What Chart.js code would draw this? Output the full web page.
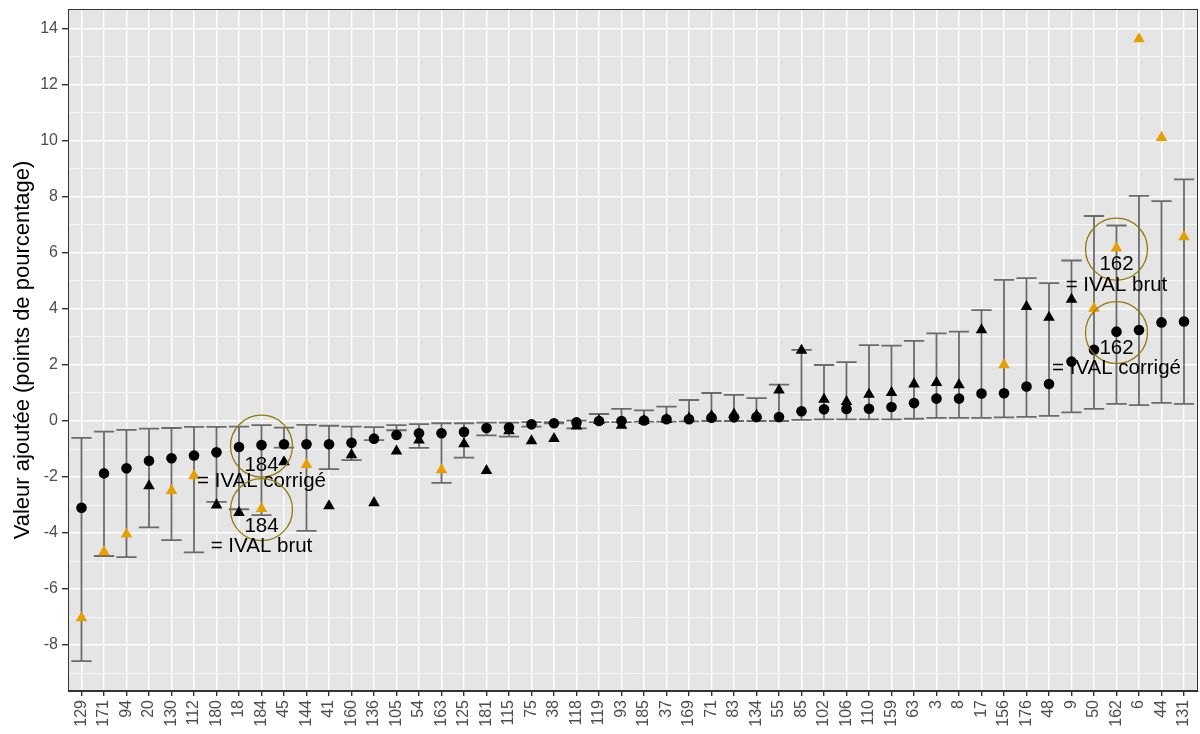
<!DOCTYPE html>
<html>
<head>
<meta charset="utf-8">
<script src="https://cdn.jsdelivr.net/npm/chart.js@4.4.1/dist/chart.umd.min.js"></script>
<style>
html,body{margin:0;padding:0;background:#ffffff;}
canvas{display:block;}
</style>
</head>
<body>
<canvas id="c" width="1200" height="734"></canvas>
<script>
// ---------------- data ----------------
const categories = ['129','171','94','20','130','112','180','18','184','45','144','41','160','136','105','54','163','125','181','115','75','38','118','119','93','185','37','169','71','83','134','55','85','102','106','110','159','63','3','8','17','156','176','48','9','50','162','6','44','131'];

// IVAL corrigé (circles)
const ivalCorrige = [-3.10,-1.87,-1.69,-1.42,-1.33,-1.23,-1.12,-0.93,-0.86,-0.83,-0.83,-0.83,-0.78,-0.63,-0.50,-0.44,-0.44,-0.39,-0.25,-0.23,-0.12,-0.08,-0.05,0.00,0.00,0.02,0.06,0.06,0.12,0.13,0.14,0.14,0.35,0.42,0.43,0.44,0.50,0.64,0.80,0.80,0.98,0.99,1.23,1.32,2.12,2.54,3.19,3.25,3.52,3.55];

// IVAL brut (triangles)
const ivalBrut = [-7.03,-4.67,-4.04,-2.32,-2.49,-1.95,-3.00,-3.27,-3.13,-1.46,-1.56,-3.03,-1.21,-2.92,-1.08,-0.68,-1.75,-0.82,-1.77,-0.35,-0.71,-0.63,-0.18,0.01,-0.16,0.01,0.06,0.10,0.18,0.24,0.20,1.10,2.52,0.77,0.69,0.95,1.01,1.32,1.37,1.29,3.25,2.00,4.08,3.70,4.34,4.02,6.17,13.64,10.12,6.57];

// orange triangles
const brutHighlighted = [true,true,true,false,true,true,false,false,true,false,true,false,false,false,false,false,true,false,false,false,false,false,false,false,false,false,false,false,false,false,false,false,false,false,false,false,false,false,false,false,false,true,false,false,false,true,true,true,true,true];

// interval bounds (error bars)
const ciLower = [-8.57,-4.82,-4.86,-3.80,-4.25,-4.69,-2.89,-3.15,-3.36,-0.95,-3.92,-1.72,-1.40,-0.68,-0.33,-0.96,-2.21,-1.31,-0.51,-0.56,-0.20,-0.08,-0.26,-0.04,-0.04,-0.02,-0.02,-0.01,0.00,0.00,0.00,0.00,0.04,0.06,0.06,0.06,0.06,0.08,0.11,0.11,0.11,0.13,0.15,0.18,0.31,0.43,0.61,0.57,0.65,0.61];
const ciUpper = [-0.60,-0.38,-0.32,-0.27,-0.25,-0.21,-0.21,-0.20,-0.15,-0.24,-0.14,-0.17,-0.20,-0.22,-0.15,-0.11,-0.08,-0.08,-0.06,-0.06,-0.04,-0.04,0.01,0.25,0.43,0.38,0.51,0.75,1.00,0.93,0.82,1.30,2.54,2.00,2.10,2.71,2.69,2.86,3.13,3.19,3.96,5.04,5.10,4.92,5.73,7.32,6.98,8.04,7.85,8.63];

const yTickValues = [-9,-8,-7,-6,-5,-4,-3,-2,-1,0,1,2,3,4,5,6,7,8,9,10,11,12,13,14];
const yAxisTitle = 'Valeur ajoutée (points de pourcentage)';

const annotations = [
  {cat:'184', series:'corrige', id:'184', label:'= IVAL corrigé', idDy:26, labelDy:42},
  {cat:'184', series:'brut',    id:'184', label:'= IVAL brut',    idDy:23, labelDy:43},
  {cat:'162', series:'brut',    id:'162', label:'= IVAL brut',    idDy:22, labelDy:43},
  {cat:'162', series:'corrige', id:'162', label:'= IVAL corrigé', idDy:22, labelDy:42}
];

// ---------------- styles ----------------
const FONT = "'Liberation Sans', Arial, Helvetica, sans-serif";
const ORANGE = '#E69F00';
const PANEL_BG = '#E5E5E5';
const AXIS_DARK = '#333333';
const TICK_TEXT = '#4D4D4D';
const ERR_COLOR = '#6b6b6b';
const RING_COLOR = '#94780C';

Chart.defaults.font.family = FONT;

const panelPlugin = {
  id: 'panelPlugin',
  beforeDraw(chart) {
    const {ctx, chartArea: a} = chart;
    ctx.save();
    ctx.fillStyle = '#ffffff';
    ctx.fillRect(0, 0, chart.width, chart.height);
    ctx.fillStyle = PANEL_BG;
    ctx.fillRect(a.left, a.top, a.right - a.left, a.bottom - a.top);
    ctx.restore();
  },
  beforeDatasetsDraw(chart) {
    const {ctx} = chart;
    const xs = chart.scales.x, ys = chart.scales.y;
    ctx.save();
    ctx.strokeStyle = ERR_COLOR;
    ctx.lineWidth = 1.8;
    categories.forEach((c, i) => {
      const x = xs.getPixelForValue(i);
      const x0 = xs.getPixelForValue(i - 0.45);
      const x1 = xs.getPixelForValue(i + 0.45);
      const yl = ys.getPixelForValue(ciLower[i]);
      const yu = ys.getPixelForValue(ciUpper[i]);
      ctx.beginPath();
      ctx.moveTo(x, yl); ctx.lineTo(x, yu);
      ctx.moveTo(x0, yl); ctx.lineTo(x1, yl);
      ctx.moveTo(x0, yu); ctx.lineTo(x1, yu);
      ctx.stroke();
    });
    ctx.restore();
  },
  afterDatasetsDraw(chart) {
    const {ctx} = chart;
    const xs = chart.scales.x, ys = chart.scales.y;
    ctx.save();
    annotations.forEach(an => {
      const i = categories.indexOf(an.cat);
      const v = an.series === 'brut' ? ivalBrut[i] : ivalCorrige[i];
      const x = xs.getPixelForValue(i);
      const y = ys.getPixelForValue(v);
      ctx.beginPath();
      ctx.strokeStyle = RING_COLOR;
      ctx.lineWidth = 1.3;
      ctx.arc(x, y + 1, 31, 0, Math.PI * 2);
      ctx.stroke();
      ctx.fillStyle = '#000000';
      ctx.font = '20.5px ' + FONT;
      ctx.textAlign = 'center';
      ctx.textBaseline = 'alphabetic';
      ctx.fillText(an.id, x, y + an.idDy);
      ctx.fillText(an.label, x, y + an.labelDy);
    });
    ctx.restore();
  },
  afterDraw(chart) {
    const {ctx, chartArea: a} = chart;
    ctx.save();
    ctx.strokeStyle = AXIS_DARK;
    ctx.lineWidth = 1;
    ctx.strokeRect(Math.round(a.left) + 0.5, Math.round(a.top) + 0.5, Math.round(a.right - a.left) - 1, Math.round(a.bottom - a.top) - 1);
    ctx.restore();
  }
};

const pointsCorrige = categories.map((c, i) => ({x: i, y: ivalCorrige[i]}));
const pointsBrut = categories.map((c, i) => ({x: i, y: ivalBrut[i]}));

new Chart(document.getElementById('c'), {
  type: 'scatter',
  data: {
    datasets: [
      {
        label: 'IVAL corrigé',
        data: pointsCorrige,
        pointStyle: 'circle',
        pointRadius: 5.3,
        pointHoverRadius: 5.3,
        pointBackgroundColor: '#000000',
        pointBorderWidth: 0,
        borderWidth: 0,
        showLine: false
      },
      {
        label: 'IVAL brut',
        data: pointsBrut,
        pointStyle: 'triangle',
        pointRadius: 6.7,
        pointHoverRadius: 6.7,
        pointBackgroundColor: brutHighlighted.map(h => h ? ORANGE : '#000000'),
        pointBorderColor: brutHighlighted.map(h => h ? ORANGE : '#000000'),
        pointBorderWidth: 0,
        borderWidth: 0,
        showLine: false
      }
    ]
  },
  options: {
    responsive: false,
    devicePixelRatio: 1,
    animation: false,
    events: [],
    layout: {autoPadding: false, padding: {top: 9, right: 2.5, bottom: 0, left: 0}},
    plugins: {legend: {display: false}, tooltip: {enabled: false}},
    scales: {
      x: {
        type: 'linear',
        min: -0.6,
        max: 49.6,
        afterBuildTicks: s => { s.ticks = categories.map((c, i) => ({value: i})); },
        afterFit: s => { s.height = 43; s.paddingLeft = 0; s.paddingRight = 0; },
        ticks: {
          autoSkip: false,
          maxRotation: 90,
          minRotation: 90,
          padding: 4,
          color: TICK_TEXT,
          font: {size: 16, family: FONT},
          callback: v => (categories[v] !== undefined ? categories[v] : '')
        },
        grid: {color: '#ffffff', lineWidth: 1.4, tickColor: AXIS_DARK, tickLength: 5, drawTicks: true},
        border: {display: true, color: AXIS_DARK, width: 1}
      },
      y: {
        type: 'linear',
        min: -9.64,
        max: 14.71,
        afterBuildTicks: s => { s.ticks = yTickValues.map(v => ({value: v})); },
        afterFit: s => { s.width = 68; s.paddingTop = 0; s.paddingBottom = 0; },
        ticks: {
          autoSkip: false,
          padding: 4,
          color: TICK_TEXT,
          font: {size: 16, family: FONT},
          callback: v => (Math.abs(v % 2) === 0 ? String(v) : '')
        },
        grid: {
          color: '#ffffff',
          lineWidth: c => (c.tick && Math.abs(c.tick.value % 2) === 0 ? 1.4 : 0.7),
          tickColor: c => (c.tick && Math.abs(c.tick.value % 2) === 0 ? AXIS_DARK : 'rgba(0,0,0,0)'),
          tickLength: 6,
          drawTicks: true
        },
        border: {display: true, color: AXIS_DARK, width: 1},
        title: {
          display: true,
          text: yAxisTitle,
          color: '#000000',
          font: {size: 22, family: FONT},
          padding: {top: 9.5, bottom: 0}
        }
      }
    }
  },
  plugins: [panelPlugin]
});
</script>
</body>
</html>
